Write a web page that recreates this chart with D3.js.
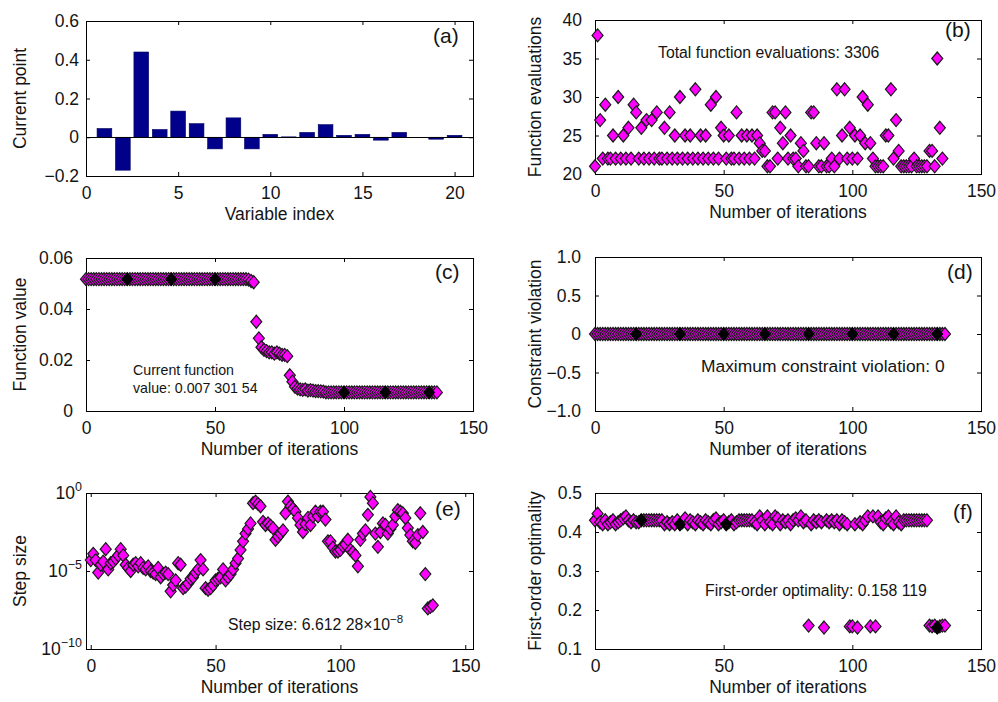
<!DOCTYPE html>
<html>
<head>
<meta charset="utf-8">
<script src="https://cdn.jsdelivr.net/npm/d3@7"></script>
<style>
body { margin: 0; background: #fff; }
svg text { font-family: "Liberation Sans", Arial, Helvetica, sans-serif; fill: #141414; }
</style>
</head>
<body>
<script>
// (a) current point per variable
const varIndex = [1,2,3,4,5,6,7,8,9,10,11,12,13,14,15,16,17,18,19,20];
const currentPoint = [0.045,-0.17,0.44,0.04,0.135,0.07,-0.06,0.10,-0.06,0.015,
  0.002,0.025,0.065,0.01,0.015,-0.015,0.025,0.0,-0.01,0.01];

// (b) function evaluations per iteration (iterations 0..135)
const funcEvals = [21,38,27,22,29,22,22,25,22,30,
  22,25,22,26,22,29,28,22,26,22,
  27,22,27,22,28,22,22,26,22,28,
  22,25,22,30,22,25,22,25,22,31,
  22,25,22,25,22,29,22,30,22,26,
  25,22,25,22,22,28,22,25,22,25,
  22,25,22,25,24,23,23,21,21,28,
  28,22,26,24,28,22,25,22,22,21,
  24,23,21,21,28,28,24,21,21,24,
  21,21,22,21,31,22,25,31,22,26,
  22,25,22,25,30,24,29,24,22,21,
  21,21,21,25,25,31,22,27,23,21,
  21,21,21,21,22,21,21,21,21,21,
  23,23,21,35,26,22];

// (c) function value (iterations 0..136)
const funcValue = [0.0517,0.0517,0.0517,0.0517,0.0517,0.0517,0.0517,0.0517,0.0517,0.0517,
  0.0517,0.0517,0.0517,0.0517,0.0517,0.0517,0.0517,0.0517,0.0517,0.0517,
  0.0517,0.0517,0.0517,0.0517,0.0517,0.0517,0.0517,0.0517,0.0517,0.0517,
  0.0517,0.0517,0.0517,0.0517,0.0517,0.0517,0.0517,0.0517,0.0517,0.0517,
  0.0517,0.0517,0.0517,0.0517,0.0517,0.0517,0.0517,0.0517,0.0517,0.0517,
  0.0517,0.0517,0.0517,0.0517,0.0517,0.0517,0.0517,0.0517,0.0517,0.0517,
  0.0517,0.0517,0.0517,0.0515,0.051,0.0505,0.035,0.0285,0.025,0.024,
  0.0235,0.023,0.023,0.0225,0.023,0.0225,0.022,0.022,0.0215,0.014,
  0.0115,0.0095,0.0088,0.0085,0.0083,0.0085,0.008,0.0082,0.008,0.0078,
  0.0078,0.0077,0.0076,0.0073,0.0073,0.0073,0.0073,0.0073,0.0073,0.0073,
  0.0073,0.0073,0.0073,0.0073,0.0073,0.0073,0.0073,0.0073,0.0073,0.0073,
  0.0073,0.0073,0.0073,0.0073,0.0073,0.0073,0.0073,0.0073,0.0073,0.0073,
  0.0073,0.0073,0.0073,0.0073,0.0073,0.0073,0.0073,0.0073,0.0073,0.0073,
  0.0073,0.0073,0.0073,0.0073,0.0073,0.0073,0.0073];
const funcValueDark = [16,33,50,100,116,133];

// (d) constraint violation (iterations 0..136)
const constrViolation = [0,0,0,0,0,0,0,0,0,0, 0,0,0,0,0,0,0,0,0,0, 0,0,0,0,0,0,0,0,0,0,
  0,0,0,0,0,0,0,0,0,0, 0,0,0,0,0,0,0,0,0,0, 0,0,0,0,0,0,0,0,0,0,
  0,0,0,0,0,0,0,0,0,0, 0,0,0,0,0,0,0,0,0,0, 0,0,0,0,0,0,0,0,0,0,
  0,0,0,0,0,0,0,0,0,0, 0,0,0,0,0,0,0,0,0,0, 0,0,0,0,0,0,0,0,0,0,
  0,0,0,0,0,0,0,0,0,0, 0,0,0,0,0,0,0];
const constrDark = [16,33,50,66,83,100,116,133];

// (e) step size, log10 values (iterations 0..137)
const stepSizeExp = [-4.3,-3.9,-4.3,-5.1,-4.6,-4.4,-3.6,-4.9,-4.5,-4.4,
  -4.2,-4.0,-3.6,-4.0,-4.6,-4.8,-5.0,-4.6,-4.5,-4.7,
  -4.5,-4.8,-4.9,-4.7,-5.0,-5.1,-5.2,-4.8,-5.4,-5.2,
  -5.1,-5.2,-6.3,-5.9,-5.6,-4.5,-4.6,-6.1,-6.0,-5.8,
  -5.5,-5.4,-5.1,-4.9,-4.3,-4.9,-6.1,-6.2,-6.1,-5.9,
  -5.6,-5.5,-5.4,-4.9,-5.6,-5.4,-5.2,-4.9,-4.5,-4.2,
  -3.65,-3.1,-2.6,-2.3,-1.95,-0.65,-0.55,-0.7,-0.85,-1.85,
  -2.05,-1.95,-2.1,-2.25,-3.0,-2.8,-2.6,-2.4,-1.3,-0.55,
  -0.85,-1.0,-1.2,-1.6,-2.05,-2.5,-2.0,-1.6,-2.05,-1.5,
  -1.2,-1.5,-1.2,-1.2,-1.7,-3.1,-3.1,-3.5,-3.75,-3.75,
  -3.65,-3.4,-3.3,-3.0,-3.65,-3.8,-4.0,-4.7,-3.0,-2.6,
  -2.4,-1.4,-0.25,-0.65,-2.6,-3.45,-2.5,-1.95,-2.05,-2.6,
  -2.3,-2.05,-1.5,-1.1,-1.2,-1.3,-1.6,-2.25,-2.7,-3.1,
  -3.2,-2.7,-1.3,-2.5,-5.2,-7.4,-7.3,-7.2];

// (f) first-order optimality (iterations 0..136)
const optimality = [0.43,0.447,0.425,0.42,0.43,0.42,0.425,0.43,0.42,0.425,
  0.43,0.435,0.44,0.43,0.425,0.43,0.425,0.425,0.43,0.43,
  0.43,0.43,0.43,0.43,0.43,0.43,0.43,0.42,0.425,0.42,
  0.425,0.42,0.43,0.42,0.425,0.435,0.42,0.43,0.425,0.42,
  0.43,0.425,0.42,0.43,0.425,0.42,0.43,0.435,0.42,0.425,
  0.43,0.42,0.425,0.43,0.42,0.425,0.43,0.43,0.43,0.43,
  0.43,0.43,0.425,0.42,0.44,0.43,0.42,0.44,0.425,0.42,
  0.44,0.435,0.42,0.43,0.425,0.43,0.42,0.43,0.435,0.43,
  0.44,0.425,0.43,0.16,0.42,0.43,0.425,0.43,0.425,0.155,
  0.43,0.425,0.43,0.425,0.43,0.42,0.43,0.425,0.42,0.158,
  0.158,0.42,0.155,0.425,0.42,0.43,0.44,0.158,0.44,0.158,
  0.44,0.425,0.42,0.435,0.44,0.425,0.42,0.44,0.425,0.42,
  0.43,0.43,0.43,0.43,0.43,0.43,0.43,0.43,0.43,0.43,
  0.16,0.158,0.16,0.155,0.158,0.16,0.16];
const optimalityDark = [18,33,51,133];

const width = 998, height = 702;
const svg = d3.select('body').append('svg')
  .attr('width', width)
  .attr('height', height);
svg.append('rect').attr('width', width).attr('height', height).attr('fill', '#fff');

const tickLen = 4;
const magenta = '#ff00ff';
const diamond = 'M0,-6.5L5.5,0L0,6.5L-5.5,0Z';
const fmt1 = d => d === 0 ? '0' : d3.format('.1f')(d);

function frame(o){
  const g = svg.append('g');
  const x = o.x, y = o.y;
  g.append('g').attr('transform', `translate(0,${o.b})`)
    .call(d3.axisBottom(x).tickValues(o.xTicks).tickSize(-tickLen).tickSizeOuter(0).tickPadding(10.5));
  g.append('g').attr('transform', `translate(0,${o.t})`)
    .call(d3.axisTop(x).tickValues(o.xTicks).tickSize(-tickLen).tickSizeOuter(0).tickFormat(''));
  g.append('g').attr('transform', `translate(${o.l},0)`)
    .attr('class', 'yaxis')
    .call(d3.axisLeft(y).tickValues(o.yTicks).tickSize(-tickLen).tickSizeOuter(0).tickPadding(o.yPad).tickFormat(o.yFmt));
  g.append('g').attr('transform', `translate(${o.r},0)`)
    .call(d3.axisRight(y).tickValues(o.yTicks).tickSize(-tickLen).tickSizeOuter(0).tickFormat(''));
  g.selectAll('.domain').remove();
  g.selectAll('.tick line').attr('stroke', '#000');
  g.selectAll('.tick text').attr('font-size', 17.5);
  g.append('rect')
    .attr('x', o.l + 0.5).attr('y', o.t + 0.5)
    .attr('width', o.r - o.l).attr('height', o.b - o.t)
    .attr('fill', 'none').attr('stroke', '#000');
  // axis titles
  g.append('text')
    .attr('x', (o.l + o.r) / 2).attr('y', o.b + 44)
    .attr('text-anchor', 'middle').attr('font-size', 17.5)
    .text(o.xLabel);
  g.append('text')
    .attr('transform', `translate(${o.yLabX},${(o.t + o.b) / 2}) rotate(-90)`)
    .attr('text-anchor', 'middle').attr('font-size', 17.5)
    .text(o.yLabel);
  return g;
}

function panelLetter(txt, px, py){
  svg.append('text').attr('x', px).attr('y', py).attr('font-size', 21).text(txt);
}

function note(lines, px, py, size, gap){
  lines.forEach((s, i) => {
    svg.append('text').attr('x', px).attr('y', py + i * gap).attr('font-size', size).text(s);
  });
}

function markers(g, values, x, y, dark){
  const mk = g.append('g');
  mk.selectAll('path')
    .data(values)
    .join('path')
    .attr('transform', (d, i) => `translate(${x(i)},${y(d)})`)
    .attr('d', diamond)
    .attr('fill', magenta)
    .attr('stroke', '#1a1a1a')
    .attr('stroke-width', 1.2);
  if (dark) {
    mk.selectAll('path.dark')
      .data(dark)
      .join('path')
      .attr('class', 'dark')
      .attr('transform', i => `translate(${x(i)},${y(values[i])})`)
      .attr('d', diamond)
      .attr('fill', '#000')
      .attr('stroke', '#000');
  }
}

const L = {l: 86, r: 473}, R = {l: 595, r: 981};
const row1 = {t: 21, b: 176}, row2 = {t: 257, b: 411}, row3 = {t: 493, b: 649};
const iterTicks = [0, 50, 100, 150];

// ---- (a)
{
  const x = d3.scaleLinear().domain([0, 21]).range([L.l, L.r]);
  const y = d3.scaleLinear().domain([-0.2, 0.6]).range([row1.b, row1.t]);
  const g = frame({...L, ...row1, x, y, xTicks: [0, 5, 10, 15, 20], yTicks: [-0.2, 0, 0.2, 0.4, 0.6],
    yPad: 7, yFmt: fmt1, xLabel: 'Variable index', yLabel: 'Current point', yLabX: 26});
  g.selectAll('rect.bar')
    .data(currentPoint)
    .join('rect')
    .attr('class', 'bar')
    .attr('x', (d, i) => x(varIndex[i] - 0.4))
    .attr('width', x(0.8) - x(0))
    .attr('y', d => y(Math.max(0, d)))
    .attr('height', d => Math.abs(y(d) - y(0)))
    .attr('fill', '#00008a')
    .attr('stroke', '#000060')
    .attr('stroke-width', 0.6);
  g.append('line')
    .attr('x1', x(0)).attr('x2', x(21))
    .attr('y1', Math.round(y(0)) + 0.5).attr('y2', Math.round(y(0)) + 0.5)
    .attr('stroke', '#000');
  panelLetter('(a)', 433, 43);
}

// ---- (b)
{
  const x = d3.scaleLinear().domain([0, 150]).range([R.l, R.r]);
  const y = d3.scaleLinear().domain([20, 40]).range([row1.b - 2, row1.t - 1]);
  const g = frame({...R, t: 20, b: 174, x, y, xTicks: iterTicks, yTicks: [20, 25, 30, 35, 40],
    yPad: 13, yFmt: d3.format('d'), xLabel: 'Number of iterations', yLabel: 'Function evaluations', yLabX: 541});
  markers(g, funcEvals, x, y);
  note(['Total function evaluations: 3306'], 658, 58, 15.8, 0);
  panelLetter('(b)', 945, 37);
}

// ---- (c)
{
  const x = d3.scaleLinear().domain([0, 150]).range([L.l, L.r]);
  const y = d3.scaleLinear().domain([0, 0.06]).range([row2.b, row2.t + 1]);
  const g = frame({...L, t: 258, b: 411, x, y, xTicks: iterTicks, yTicks: [0, 0.02, 0.04, 0.06],
    yPad: 13, yFmt: d => d === 0 ? '0' : d3.format('.2f')(d), xLabel: 'Number of iterations', yLabel: 'Function value', yLabX: 26});
  markers(g, funcValue, x, y, funcValueDark);
  note(['Current function', 'value: 0.007 301 54'], 133, 375, 14.2, 18);
  panelLetter('(c)', 435, 279);
}

// ---- (d)
{
  const x = d3.scaleLinear().domain([0, 150]).range([R.l, R.r]);
  const y = d3.scaleLinear().domain([-1, 1]).range([row2.b, row2.t]);
  const g = frame({...R, ...row2, x, y, xTicks: iterTicks, yTicks: [-1, -0.5, 0, 0.5, 1],
    yPad: 14, yFmt: fmt1, xLabel: 'Number of iterations', yLabel: 'Constraint violation', yLabX: 541});
  markers(g, constrViolation, x, y, constrDark);
  note(['Maximum constraint violation: 0'], 701, 372, 17.4, 0);
  panelLetter('(d)', 947, 279);
}

// ---- (e)
{
  const x = d3.scaleLinear().domain([-1.9, 153.1]).range([L.l, L.r]);
  const y = d3.scaleLog().domain([1e-10, 1]).range([row3.b, row3.t]);
  const g = frame({...L, ...row3, x, y, xTicks: iterTicks, yTicks: [1e-10, 1e-5, 1],
    yPad: 14, yFmt: () => '', xLabel: 'Number of iterations', yLabel: 'Step size', yLabX: 26});
  g.select('.yaxis').selectAll('.tick text').each(function(d){
    const t = d3.select(this);
    t.text('10');
    t.append('tspan').attr('dy', '-0.62em').attr('font-size', 12.5)
      .text(d3.format('d')(Math.round(Math.log10(d))));
  });
  g.select('.yaxis').selectAll('.tick text').attr('x', -4);
  markers(g, stepSizeExp.map(v => Math.pow(10, v)), x, y);
  const t = svg.append('text').attr('x', 228).attr('y', 630).attr('font-size', 15.8)
    .text('Step size: 6.612 28×10');
  t.append('tspan').attr('dy', -7).attr('font-size', 11.5).text('−8');
  panelLetter('(e)', 435, 516);
}

// ---- (f)
{
  const x = d3.scaleLinear().domain([0, 150]).range([R.l, R.r]);
  const y = d3.scaleLinear().domain([0.1, 0.5]).range([row3.b, row3.t]);
  const g = frame({...R, ...row3, x, y, xTicks: iterTicks, yTicks: [0.1, 0.2, 0.3, 0.4, 0.5],
    yPad: 13, yFmt: d3.format('.1f'), xLabel: 'Number of iterations', yLabel: 'First-order optimality', yLabX: 541});
  markers(g, optimality, x, y, optimalityDark);
  note(['First-order optimality: 0.158 119'], 705, 596, 15.8, 0);
  panelLetter('(f)', 953, 519);
}
</script>
</body>
</html>
